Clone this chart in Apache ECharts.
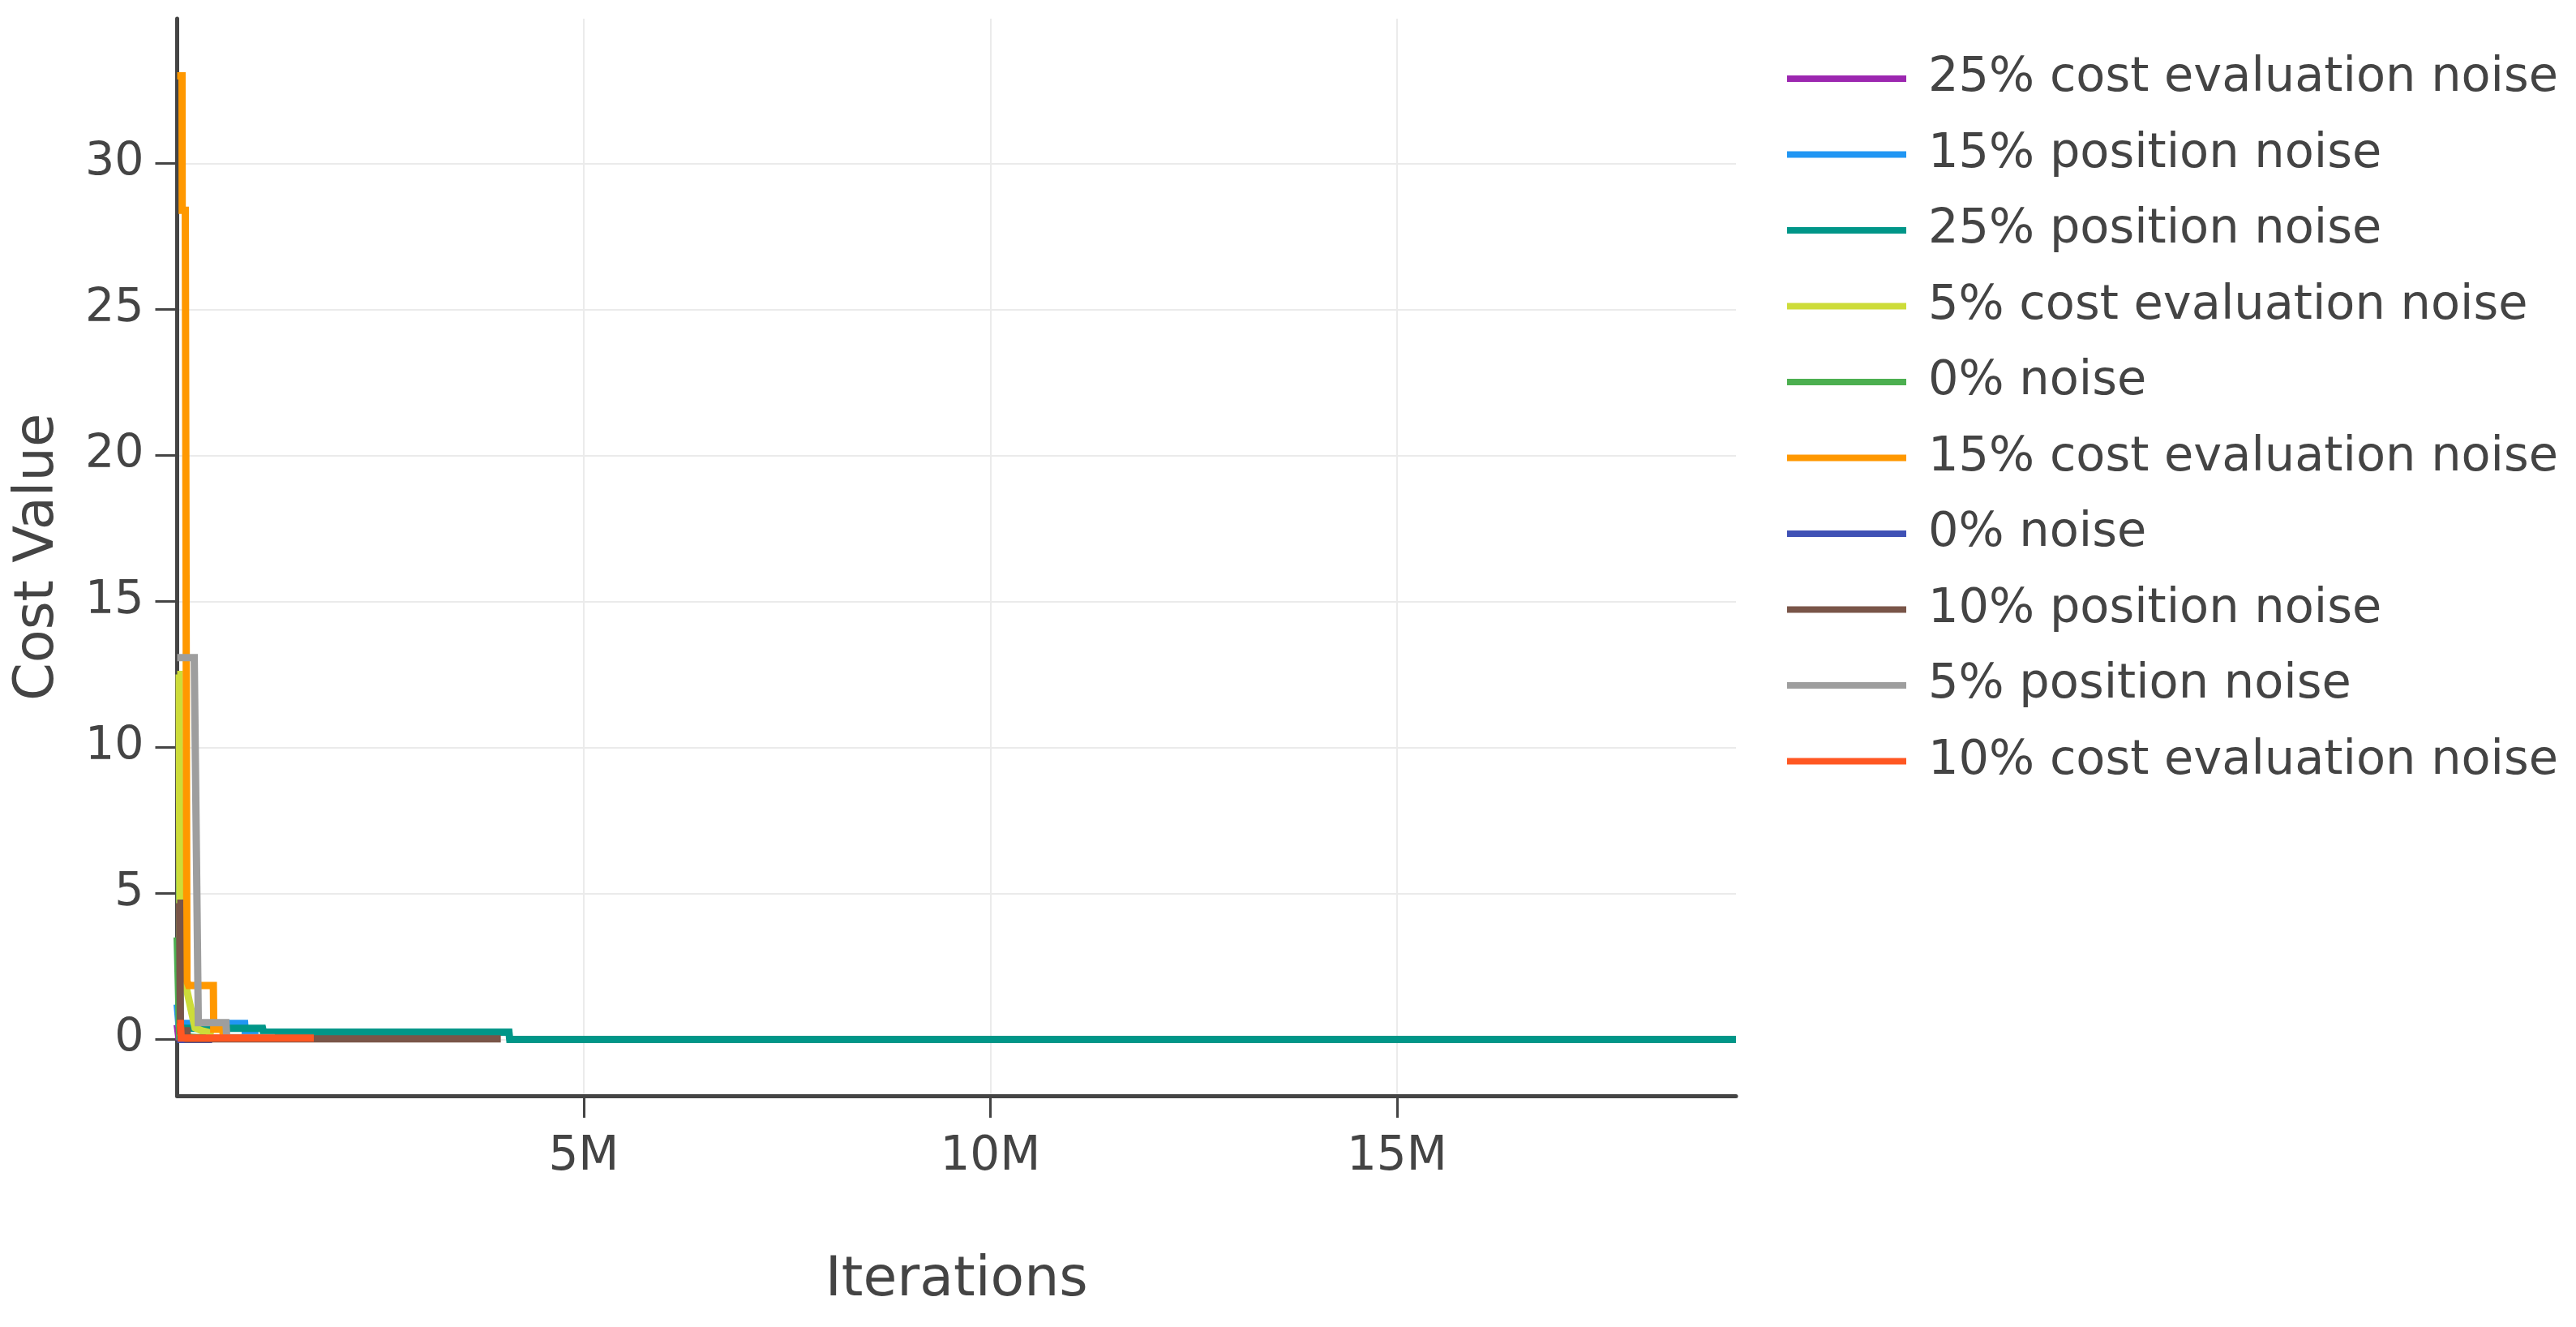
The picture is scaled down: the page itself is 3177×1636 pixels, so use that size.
<!DOCTYPE html>
<html><head><meta charset="utf-8">
<script src="https://cdn.jsdelivr.net/npm/echarts@6/dist/echarts.min.js"></script>
<style>html,body{margin:0;padding:0;background:#fff}#c{width:3177px;height:1636px}</style>
</head><body><div id="c"></div>
<script>
// Legend labels (drawing order) and colours
const seriesNames = ['25% cost evaluation noise','15% position noise','25% position noise','5% cost evaluation noise','0% noise','15% cost evaluation noise','0% noise','10% position noise','5% position noise','10% cost evaluation noise'];
const seriesColors = ['#9C27B0','#2196F3','#009688','#CDDC39','#4CAF50','#FF9800','#3F51B5','#795548','#9E9E9E','#FF5722'];

// Iterations / cost values
const cost25X = [0, 20000, 150000, 900000];
const cost25Y = [0.5, 0.08, 0.05, 0.03];
const pos15X = [0, 20000, 830000, 840000, 1000000];
const pos15Y = [1.2, 0.55, 0.55, 0.15, 0.15];
const pos25X = [0, 30000, 35000, 1050000, 1060000, 4080000, 4090000, 19170000];
const pos25Y = [5.8, 5.8, 0.38, 0.38, 0.25, 0.25, 0.0, 0.0];
const cost5X = [0, 25000, 35000, 110000, 220000, 300000, 450000];
const cost5Y = [12.5, 12.5, 3.0, 1.8, 0.4, 0.3, 0.2];
const noise0aX = [0, 30000, 350000];
const noise0aY = [3.5, 0.1, 0.05];
const cost15X = [0, 60000, 62000, 100000, 120000, 140000, 445000, 450000, 560000, 570000, 1200000];
const cost15Y = [33.0, 33.0, 28.4, 28.4, 2.0, 1.85, 1.85, 0.35, 0.35, 0.05, 0.05];
const noise0bX = [0, 430000];
const noise0bY = [0.0, 0.0];
const pos10X = [0, 30000, 40000, 120000, 130000, 3980000];
const pos10Y = [4.67, 4.67, 0.3, 0.3, 0.02, 0.02];
const pos5X = [0, 210000, 260000, 600000, 610000, 1200000];
const pos5Y = [13.08, 13.08, 0.58, 0.58, 0.06, 0.06];
const cost10X = [0, 40000, 50000, 1680000];
const cost10Y = [0.55, 0.55, 0.05, 0.05];

const xTicks = [5000000, 10000000, 15000000];
const yTicks = [0, 5, 10, 15, 20, 25, 30];

const allX = [cost25X, pos15X, pos25X, cost5X, noise0aX, cost15X, noise0bX, pos10X, pos5X, cost10X];
const allY = [cost25Y, pos15Y, pos25Y, cost5Y, noise0aY, cost15Y, noise0bY, pos10Y, pos5Y, cost10Y];

const FONT = 'DejaVu Sans';
const TXT = '#444';

const series = allX.map((xs, i) => ({
  type: 'line',
  name: String(i),
  color: seriesColors[i],
  showSymbol: false,
  symbol: 'none',
  lineStyle: { width: 9, color: seriesColors[i], join: 'miter' },
  data: xs.map((x, k) => [x, allY[i][k]]),
  animation: false
}));

const chart = echarts.init(document.getElementById('c'), null, { renderer: 'canvas' });
chart.setOption({
  animation: false,
  backgroundColor: '#fff',
  grid: { left: 218.5, right: 1036, top: 23, bottom: 285, containLabel: false },
  xAxis: {
    type: 'value', min: 0, max: 19170000,
    name: 'Iterations', nameLocation: 'middle', nameGap: 194,
    nameTextStyle: { fontFamily: FONT, fontSize: 68, color: TXT },
    axisLine: { show: true, onZero: false, lineStyle: { color: TXT, width: 5 } },
    axisTick: { show: true, length: 27, lineStyle: { color: TXT, width: 3 }, customValues: xTicks },
    axisLabel: { customValues: xTicks, fontFamily: FONT, fontSize: 58, color: TXT, margin: 47,
      formatter: v => (v / 1000000) + 'M' },
    splitLine: { show: true, lineStyle: { color: '#ebebeb', width: 2 } }
  },
  yAxis: {
    type: 'value', min: -1.93, max: 34.96,
    name: 'Cost Value', nameLocation: 'middle', nameGap: 137, nameRotate: 90,
    nameTextStyle: { fontFamily: FONT, fontSize: 67, color: TXT },
    axisLine: { show: true, onZero: false, lineStyle: { color: TXT, width: 5 } },
    axisTick: { show: true, length: 27, lineStyle: { color: TXT, width: 3 }, customValues: yTicks },
    axisLabel: { customValues: yTicks, fontFamily: FONT, fontSize: 57, color: TXT, margin: 41 },
    splitLine: { show: true, lineStyle: { color: '#ebebeb', width: 2 } }
  },
  legend: {
    orient: 'vertical', left: 2204, top: 67, padding: 0,
    icon: 'rect', itemWidth: 147, itemHeight: 8, itemGap: 33.5,
    data: seriesNames.map((n, i) => String(i)),
    formatter: name => seriesNames[+name],
    textStyle: { fontFamily: FONT, fontSize: 59, color: TXT, lineHeight: 60, padding: [0, 0, 0, 22] }
  },
  series: series
});
</script></body></html>
